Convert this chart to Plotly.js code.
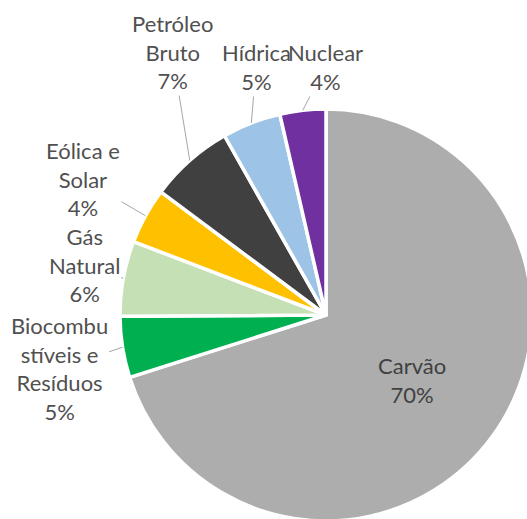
<!DOCTYPE html>
<html>
<head>
<meta charset="utf-8">
<script src="https://cdn.plot.ly/plotly-3.0.1.min.js"></script>
<style>
html,body{margin:0;padding:0;overflow:hidden;background:#fff;}
#chart{width:540px;height:530px;}
</style>
</head>
<body>
<div id="chart"></div>
<script>
// ---- data ----
const labels = ['Carvão', 'Biocombustíveis e Resíduos', 'Gás Natural', 'Eólica e Solar', 'Petróleo Bruto', 'Hídrica', 'Nuclear'];
const labelLines = [['Carvão'], ['Biocombu', 'stíveis e', 'Resíduos'], ['Gás', 'Natural'], ['Eólica e', 'Solar'], ['Petróleo', 'Bruto'], ['Hídrica'], ['Nuclear']];
const values = [70.1, 4.8, 5.9, 4.4, 6.6, 4.6, 3.6];
const colors = ['#ADADAD', '#00B050', '#C5E0B4', '#FFC000', '#404040', '#9DC3E6', '#7030A0'];

// ---- layout constants (pixels) ----
const W = 540, H = 530;
const CX = 326, CY = 315, R = 206;
const labelPos = [[412, 380], [59, 369], [84, 265], [83, 179], [172, 52], [256, 67], [325, 67]];

const total = values.reduce((a, b) => a + b, 0);
const annotations = [];
let cum = 0;
values.forEach((v, i) => {
  const mid = (cum + v / 2) / total * 2 * Math.PI;
  cum += v;
  const tipX = CX + R * Math.sin(mid);
  const tipY = CY - R * Math.cos(mid);
  const txt = labelLines[i].join('<br>') + '<br>' + Math.round(v / total * 100) + '%';
  const [tx, ty] = labelPos[i];
  if (i === 0) {
    annotations.push({
      xref: 'paper', yref: 'paper', x: tx / W, y: 1 - ty / H,
      xanchor: 'center', yanchor: 'middle', showarrow: false,
      text: txt, font: {family: 'Lato, sans-serif', size: 22, color: '#404040'}
    });
  } else {
    annotations.push({
      xref: 'paper', yref: 'paper', x: tipX / W, y: 1 - tipY / H,
      axref: 'pixel', ayref: 'pixel', ax: tx - tipX, ay: ty - tipY,
      showarrow: true, arrowhead: 0, arrowwidth: 1, arrowcolor: '#A6A6A6', standoff: 0,
      text: txt, font: {family: 'Lato, sans-serif', size: 22, color: '#505050'}
    });
  }
});

const trace = {
  type: 'pie',
  labels: labels,
  values: values,
  sort: false,
  direction: 'clockwise',
  rotation: 0,
  textinfo: 'none',
  hoverinfo: 'label+percent',
  marker: {colors: colors, line: {color: '#FFFFFF', width: 3.5}},
  domain: {x: [(CX - R) / W, (CX + R) / W], y: [1 - (CY + R) / H, 1 - (CY - R) / H]},
  automargin: false
};

const layout = {
  width: W, height: H,
  margin: {l: 0, r: 0, t: 0, b: 0},
  showlegend: false,
  paper_bgcolor: '#FFFFFF',
  annotations: annotations
};

Plotly.newPlot('chart', [trace], layout, {displayModeBar: false, staticPlot: true});
</script>
</body>
</html>
